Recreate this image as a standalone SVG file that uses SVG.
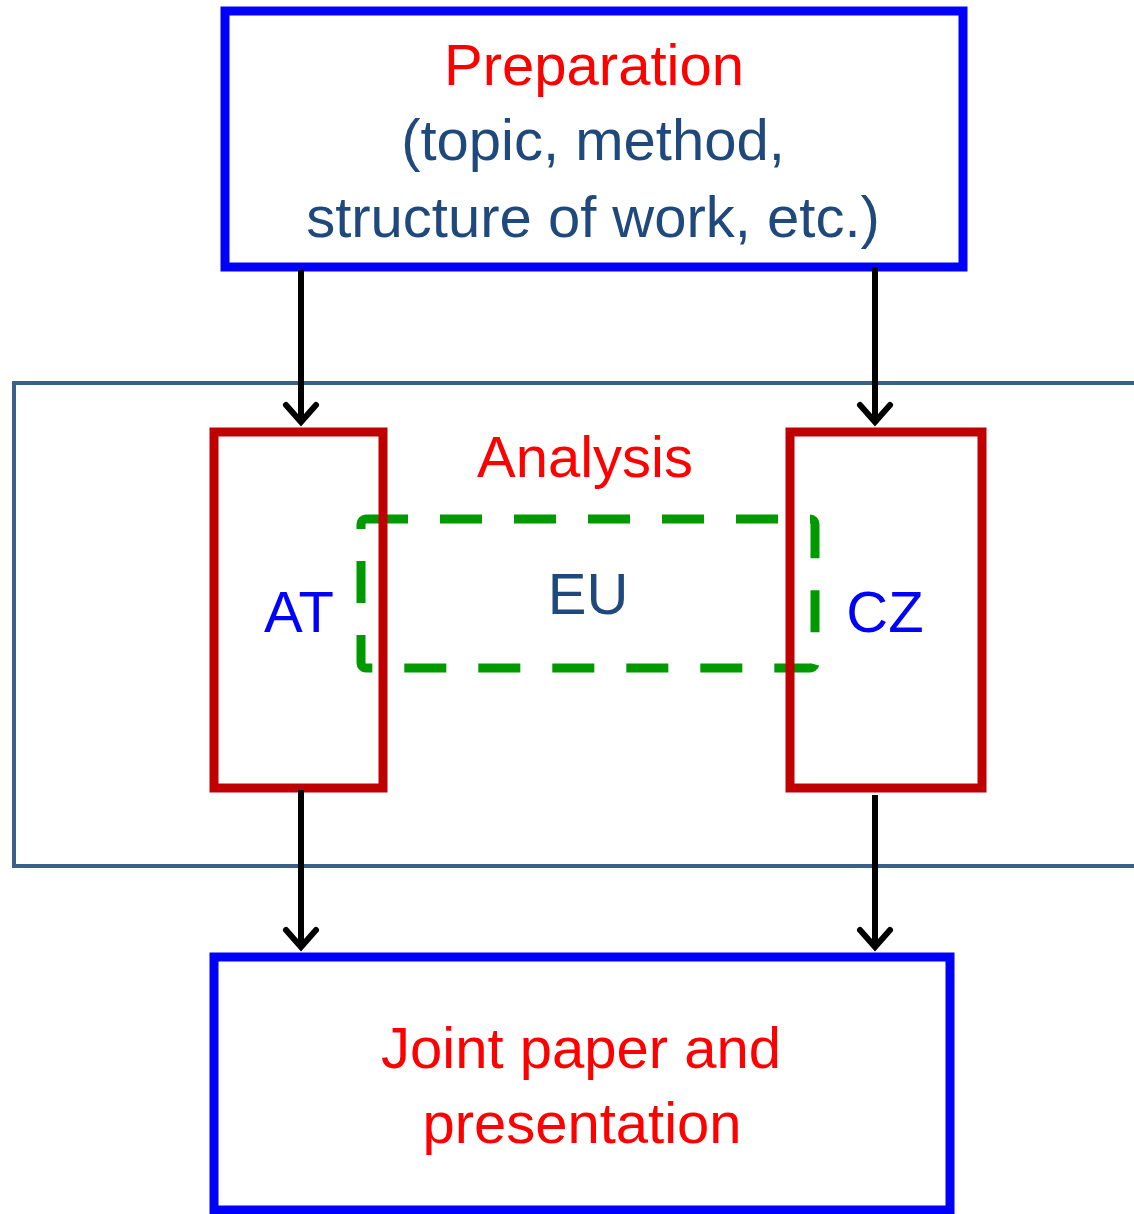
<svg xmlns="http://www.w3.org/2000/svg" width="1134" height="1214" viewBox="0 0 1134 1214">
<defs>
<style>
text{font-family:"Liberation Sans",Arial,sans-serif;font-size:58px;text-anchor:middle}
.red{fill:#FF0000}.navy{fill:#1F497D}.blue{fill:#0000FF}
.bluebox{fill:#fff;stroke:#0000FF;stroke-width:9}
.redbox{fill:none;stroke:#C00000;stroke-width:9}
.arrow{stroke:#000;stroke-width:6;fill:none;marker-end:url(#ah)}
</style>
<marker id="ah" markerWidth="12" markerHeight="12" refX="6" refY="6" orient="auto" markerUnits="userSpaceOnUse" viewBox="0 0 12 12" overflow="visible">
<path d="M-11,-9 L6,6 L-11,21" fill="none" stroke="#000" stroke-width="6" stroke-linecap="round" stroke-linejoin="miter"/>
</marker>
</defs>
<g id="analysis-frame">
<rect x="14" y="383" width="1140" height="483" fill="none" stroke="#3A5F8B" stroke-width="4"/>
<text x="585" y="477" class="red" font-size="56">Analysis</text>
</g>
<g id="eu">
<rect x="361" y="519" width="454" height="149" rx="5" fill="none" stroke="#009900" stroke-width="9" stroke-dasharray="42 32"/>
<text x="588" y="614" class="navy" font-size="56">EU</text>
</g>
<g id="at">
<rect x="214" y="432" width="169" height="356" class="redbox"/>
<text x="299" y="632" class="blue" font-size="56">AT</text>
</g>
<g id="cz">
<rect x="790" y="432" width="192" height="356" class="redbox"/>
<text x="885" y="632" class="blue" font-size="56">CZ</text>
</g>
<g id="preparation">
<rect x="225" y="11" width="738" height="256" class="bluebox"/>
<text x="594" y="85" class="red">Preparation</text>
<text x="593" y="160" class="navy">(topic, method,</text>
<text x="593" y="237" class="navy">structure of work, etc.)</text>
</g>
<g id="joint">
<rect x="214" y="957" width="736" height="253" class="bluebox"/>
<text x="581" y="1068" class="red" font-size="59">Joint paper and</text>
<text x="582" y="1143" class="red" font-size="59">presentation</text>
</g>
<g id="connectors">
<path d="M301,270 V422" class="arrow"/>
<path d="M875,267 V422" class="arrow"/>
<path d="M301,790 V947" class="arrow"/>
<path d="M875,795 V947" class="arrow"/>
</g>
</svg>
